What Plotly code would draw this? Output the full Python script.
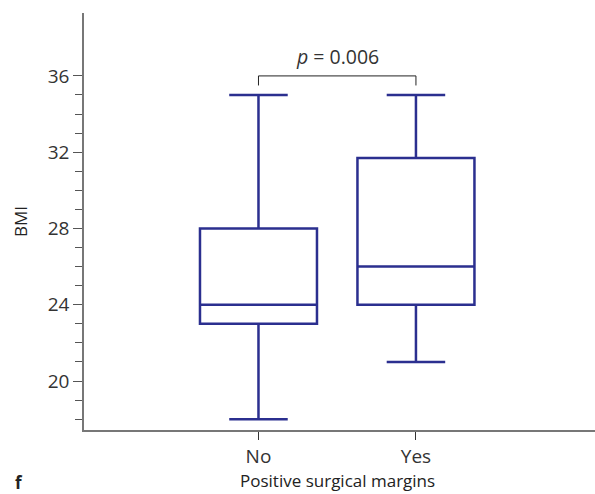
import plotly.graph_objects as go

# Box summary statistics for BMI by positive surgical margin status
groups = ["No", "Yes"]
positions = [0, 1]
lower_whisker = [18, 21]
q1 = [23, 24]
median = [24, 26]
q3 = [28, 31.7]
upper_whisker = [35, 35]

# Significance bracket
bracket_y = 36
bracket_drop = 0.5
p_label = "<i>p</i> = 0.006"

x_title = "Positive surgical margins"
y_title = "BMI"
panel_label = "<b>f</b>"

y_ticks = [20, 24, 28, 32, 36]
y_minor_ticks = list(range(18, 37))

navy = "#2b2f8f"
font_family = "Open Sans, Noto Sans, sans-serif"

fig = go.Figure()

fig.add_trace(go.Box(
    x=positions,
    q1=q1,
    median=median,
    q3=q3,
    lowerfence=lower_whisker,
    upperfence=upper_whisker,
    width=0.743,
    whiskerwidth=0.5,
    line=dict(color=navy, width=2.5),
    fillcolor="rgba(0,0,0,0)",
    boxpoints=False,
    showlegend=False,
    hoverinfo="skip",
))

fig.add_trace(go.Scatter(
    x=[positions[0], positions[0], positions[1], positions[1]],
    y=[bracket_y - bracket_drop, bracket_y, bracket_y, bracket_y - bracket_drop],
    mode="lines",
    line=dict(color="#222222", width=1),
    showlegend=False,
    hoverinfo="skip",
))

fig.add_annotation(
    x=sum(positions) / 2, y=bracket_y, xref="x", yref="y",
    text=p_label, showarrow=False, yshift=19,
    font=dict(family=font_family, size=19.5, color="#333333"),
)

# X-axis title placed below the category labels
fig.add_annotation(
    x=sum(positions) / 2, y=-0.121, xref="x", yref="paper",
    text=x_title, showarrow=False, xanchor="center", yanchor="middle",
    font=dict(family=font_family, size=17, color="#222222"),
)

fig.add_annotation(
    x=-0.127, y=-0.125, xref="paper", yref="paper",
    text=panel_label, showarrow=False, xanchor="center", yanchor="middle",
    font=dict(family=font_family, size=17, color="#222222"),
)

fig.update_layout(
    width=595, height=494,
    margin=dict(l=84, r=0, t=13, b=64),
    plot_bgcolor="white", paper_bgcolor="white",
    font=dict(family=font_family, size=17, color="#333333"),
    xaxis=dict(
        range=[-1.108, 2.137],
        tickvals=positions, ticktext=groups,
        tickfont=dict(size=19),
        showline=True, linecolor="#777777", linewidth=1.5,
        ticks="outside", ticklen=8, tickcolor="#333333", tickwidth=1,
        showgrid=False, zeroline=False,
    ),
    yaxis=dict(
        range=[17.43, 39.3],
        tickvals=y_ticks,
        tickfont=dict(size=19),
        showline=True, linecolor="#777777", linewidth=1.5,
        ticks="outside", ticklen=9, tickcolor="#555555", tickwidth=1,
        minor=dict(tickvals=y_minor_ticks, ticks="outside", ticklen=7,
                   tickcolor="#555555", tickwidth=1, showgrid=False),
        showgrid=False, zeroline=False,
        title=dict(text=y_title, standoff=16, font=dict(size=17, color="#222222")),
    ),
)

fig.write_html("out.html")
